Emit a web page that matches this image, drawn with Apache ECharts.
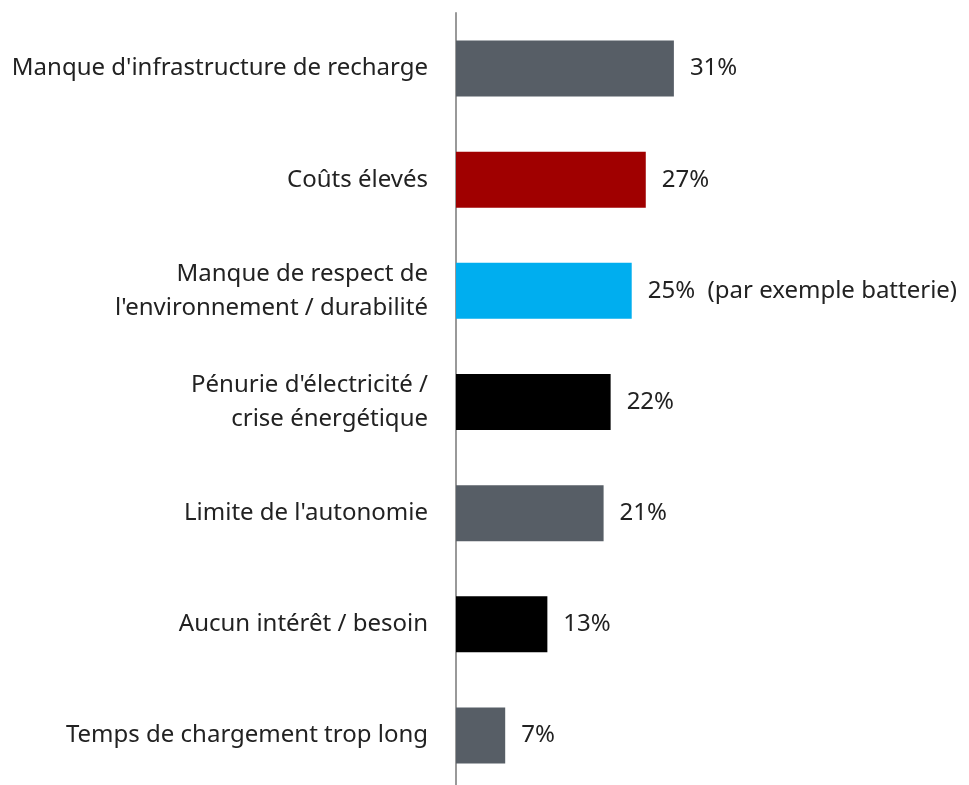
<!DOCTYPE html>
<html>
<head>
<meta charset="utf-8">
<script src="https://cdn.jsdelivr.net/npm/echarts@6/dist/echarts.min.js"></script>
<style>
  html, body { margin: 0; padding: 0; background: #fff; overflow: hidden; }
  #main { width: 969px; height: 791px; }
</style>
</head>
<body>
<div id="main"></div>
<script>
// data
var categories = [
  "Manque d'infrastructure de recharge",
  "Coûts élevés",
  "Manque de respect de\nl'environnement / durabilité",
  "Pénurie d'électricité /\ncrise énergétique",
  "Limite de l'autonomie",
  "Aucun intérêt / besoin",
  "Temps de chargement trop long"
];
var values = [31, 27, 25, 22, 21, 13, 7];
var notes = ["", "", "(par exemple batterie)", "", "", "", ""];
var barColors = ["#575e66", "#a00000", "#00aeef", "#000000", "#575e66", "#000000", "#575e66"];

var myChart = echarts.init(document.getElementById("main"));
var option = {
  animation: false,
  grid: {
    left: 456,
    top: 13,
    width: 492,
    bottom: 0
  },
  xAxis: {
    type: 'value',
    min: 0,
    max: 70,
    show: false
  },
  yAxis: {
    type: 'category',
    inverse: true,
    data: categories,
    axisLine: { show: true, lineStyle: { color: '#999', width: 2 } },
    axisTick: { show: false },
    axisLabel: {
      margin: 28,
      fontFamily: 'Noto Sans',
      fontSize: 24,
      lineHeight: 34,
      color: '#222',
      align: 'right'
    }
  },
  series: [{
    type: 'bar',
    barWidth: 56,
    data: values.map(function (v, i) {
      return { value: v, itemStyle: { color: barColors[i] } };
    }),
    label: {
      show: true,
      position: 'right',
      distance: 16,
      fontFamily: 'Noto Sans',
      fontSize: 24,
      color: '#222',
      formatter: function (p) {
        var n = notes[p.dataIndex];
        return p.value + '%' + (n ? '  ' + n : '');
      }
    }
  }]
};
myChart.setOption(option);
</script>
</body>
</html>
